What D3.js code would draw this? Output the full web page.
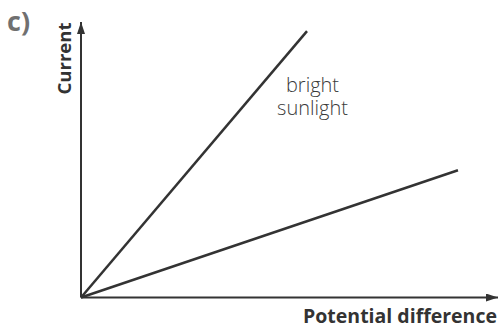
<!DOCTYPE html>
<html>
<head>
<meta charset="utf-8">
<script src="https://cdn.jsdelivr.net/npm/d3@7"></script>
<style>
  body { margin: 0; background: #fff; }
</style>
</head>
<body>
<svg id="chart" width="500" height="327"></svg>
<script>
// line end points in arbitrary units (origin is 0,0)
const voltage = [0, 5.42, 9.04]
const brightCurrent = [0, 9.67]
const dimCurrent = [0, 4.62]
const labelLines = ['bright', 'sunlight']

const svg = d3.select('#chart')
const ink = '#333'

let xScale = d3.scaleLinear()
               .domain([0, 10])
               .range([81, 498])

let yScale = d3.scaleLinear()
               .domain([0, 10])
               .range([297.5, 22])

svg.append('defs').append('marker')
   .attr('id', 'arrow')
   .attr('viewBox', '0 0 12 8')
   .attr('refX', 12)
   .attr('refY', 4)
   .attr('markerWidth', 12)
   .attr('markerHeight', 8)
   .attr('markerUnits', 'userSpaceOnUse')
   .attr('orient', 'auto')
   .append('path')
   .attr('d', 'M0,0 L12,4 L0,8 Z')
   .style('fill', ink)

// axes
svg.append('line')
   .attr('x1', xScale(0)).attr('y1', yScale(0))
   .attr('x2', xScale(10)).attr('y2', yScale(0))
   .style('stroke', ink)
   .style('stroke-width', 2)
   .attr('marker-end', 'url(#arrow)')

svg.append('line')
   .attr('x1', xScale(0)).attr('y1', yScale(0))
   .attr('x2', xScale(0)).attr('y2', yScale(10))
   .style('stroke', ink)
   .style('stroke-width', 2)
   .attr('marker-end', 'url(#arrow)')

let lineGenerator = d3.line()
                      .x(d => xScale(d[0]))
                      .y(d => yScale(d[1]))

svg.append('path')
   .datum([[voltage[0], brightCurrent[0]], [voltage[1], brightCurrent[1]]])
   .attr('d', lineGenerator)
   .style('fill', 'none')
   .style('stroke', ink)
   .style('stroke-width', 2.5)

svg.append('path')
   .datum([[voltage[0], dimCurrent[0]], [voltage[2], dimCurrent[1]]])
   .attr('d', lineGenerator)
   .style('fill', 'none')
   .style('stroke', ink)
   .style('stroke-width', 2.5)

// labels
svg.append('text')
   .text('c)')
   .attr('x', 7)
   .attr('y', 31)
   .style('fill', '#707070')
   .style('font-family', 'Open Sans')
   .style('font-weight', 'bold')
   .style('font-size', '27px')

svg.append('text')
   .text('Current')
   .attr('transform', `translate(70.5, 58.5) rotate(-90)`)
   .style('text-anchor', 'middle')
   .style('fill', ink)
   .style('font-family', 'Open Sans')
   .style('font-weight', 'bold')
   .style('font-size', '18.5px')

svg.append('text')
   .text('Potential difference')
   .attr('x', 497)
   .attr('y', 322.5)
   .style('text-anchor', 'end')
   .style('fill', ink)
   .style('font-family', 'Open Sans')
   .style('font-weight', 'bold')
   .style('font-size', '19.5px')

// two-line note kept in one text element
let note = svg.append('text')
              .attr('y', 91.5)
              .style('text-anchor', 'middle')
              .style('fill', '#3a3a3a')
              .style('font-family', 'Open Sans')
              .style('font-weight', 300)
              .style('font-size', '20px')

note.selectAll('tspan')
    .data(labelLines)
    .enter()
    .append('tspan')
    .attr('x', 312.5)
    .attr('dy', (d, i) => i == 0 ? 0 : 23.5)
    .text(d => d)
</script>
</body>
</html>
